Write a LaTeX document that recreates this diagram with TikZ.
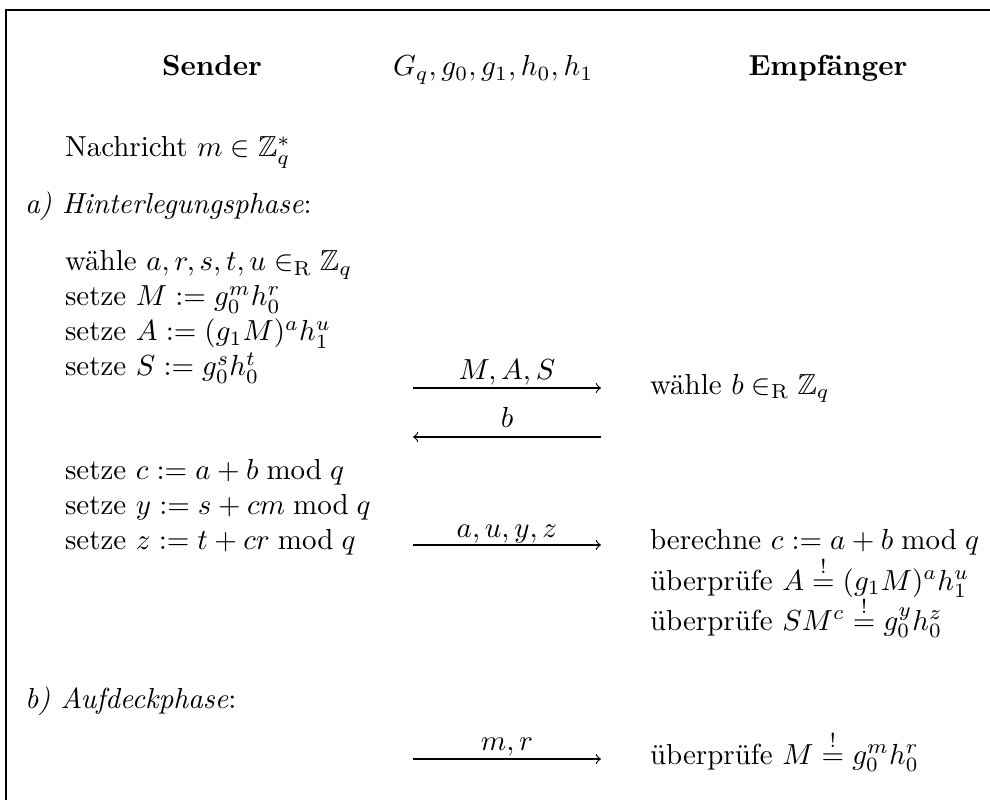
\documentclass[tikz,border=0pt]{standalone}
\usepackage{amsmath}
\usepackage{amssymb}
\begin{document}
\begin{tikzpicture}[x=0.3448pt,y=-0.3448pt,
  txt/.style={anchor=base west,inner sep=0pt,outer sep=0pt},
  ctxt/.style={anchor=base,inner sep=0pt,outer sep=0pt},
  msg/.style={->,line width=0.4pt},
  frameline/.style={line width=0.75pt}]
\useasboundingbox (0,0) rectangle (990,800);
% frame
\coordinate (fbl) at (6,800);
\coordinate (ftl) at (6,10);
\coordinate (ftr) at (990,10);
\draw[frameline] (fbl) -- (ftl) -- (ftr);
% header
\node[ctxt] (hs) at (212,76) {\textbf{Sender}};
\node[txt]  (hp) at (393,76) {$G_q,g_0,g_1,h_0,h_1$};
\node[ctxt] (he) at (828,76) {\textbf{Empf\"anger}};
% sender side
\node[txt] (n0) at (65,157) {Nachricht $m\in\mathbb{Z}_q^*$};
\node[txt] (pa) at (25,214) {\textit{a) Hinterlegungsphase}:};
\node[txt] (s1) at (65,271) {w\"ahle $a,r,s,t,u\in_{\mathrm{R}}\mathbb{Z}_q$};
\node[txt] (s2) at (65,306) {setze $M:=g_0^mh_0^r$};
\node[txt] (s3) at (65,341) {setze $A:=(g_1M)^ah_1^u$};
\node[txt] (s4) at (65,376) {setze $S:=g_0^sh_0^t$};
\node[txt] (s5) at (65,480) {setze $c:=a+b\bmod q$};
\node[txt] (s6) at (65,515) {setze $y:=s+cm\bmod q$};
\node[txt] (s7) at (65,550) {setze $z:=t+cr\bmod q$};
\node[txt] (pb) at (25,708) {\textit{b) Aufdeckphase}:};
% receiver side
\node[txt] (r1) at (650,394) {w\"ahle $b\in_{\mathrm{R}}\mathbb{Z}_q$};
\node[txt] (r2) at (650,550) {berechne $c:=a+b\bmod q$};
\node[txt] (r3) at (650,590) {\"uberpr\"ufe $A\stackrel{!}{=}(g_1M)^ah_1^u$};
\node[txt] (r4) at (650,630) {\"uberpr\"ufe $SM^c\stackrel{!}{=}g_0^yh_0^z$};
\node[txt] (r5) at (650,764) {\"uberpr\"ufe $M\stackrel{!}{=}g_0^mh_0^r$};
% messages
\coordinate (m1a) at (413,388); \coordinate (m1b) at (601,388);
\coordinate (m2a) at (601,437); \coordinate (m2b) at (413,437);
\coordinate (m3a) at (413,545); \coordinate (m3b) at (601,545);
\coordinate (m4a) at (413,759); \coordinate (m4b) at (601,759);
\draw[msg] (m1a) -- (m1b);
\draw[msg] (m2a) -- (m2b);
\draw[msg] (m3a) -- (m3b);
\draw[msg] (m4a) -- (m4b);
\node[ctxt] (l1) at (507,380) {$M,A,S$};
\node[ctxt] (l2) at (507,428) {$b$};
\node[ctxt] (l3) at (507,537) {$a,u,y,z$};
\node[ctxt] (l4) at (507,750) {$m,r$};
\end{tikzpicture}
\end{document}
